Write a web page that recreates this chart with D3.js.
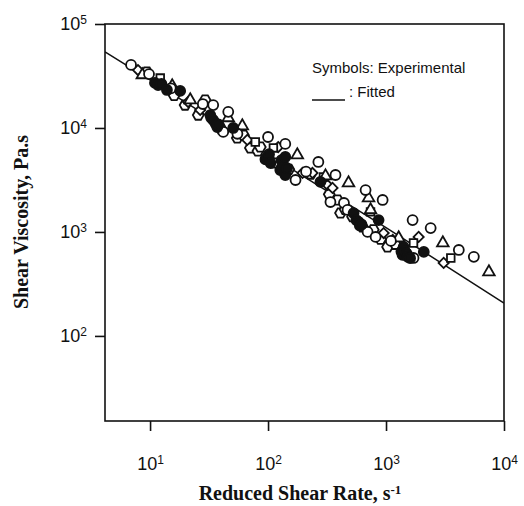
<!DOCTYPE html>
<html lang="en">
<head>
<meta charset="UTF-8">
<title>Shear Viscosity</title>
<script src="https://cdn.jsdelivr.net/npm/d3@7"></script>
<style>
  body { margin: 0; background: #fff; }
  .tick text { font-family: "Liberation Sans", Arial, sans-serif; font-size: 18px; fill: #111; }
  .axis-title { font-family: "Liberation Serif", "Times New Roman", serif; font-weight: bold; font-size: 20px; fill: #111; }
  .legend { font-family: "Liberation Sans", Arial, sans-serif; font-size: 15px; fill: #111; }
</style>
</head>
<body>
<svg width="524" height="506"></svg>
<script>
// data (x: reduced shear rate 1/s, y: viscosity Pa.s)
const openCircleX = [6.9, 9.8, 15, 28, 34.3, 41.7, 46, 55, 100, 140, 171, 210, 267, 373, 440, 472, 671, 936, 698, 816, 1100, 1710, 1680, 2390, 4140, 5550, 338];
const openCircleY = [40400, 33000, 24000, 17000, 16600, 9170, 14300, 8800, 8190, 7020, 3160, 3800, 4710, 3530, 1900, 1630, 2530, 2030, 1000, 895, 820, 562, 1300, 1090, 671, 576, 1940];

const filledX = [11, 11.7, 12.5, 13.9, 18, 32.4, 33, 34.3, 36, 37.1, 38, 50.7, 95, 98.6, 102, 105, 127, 130, 135, 140, 140, 145, 278, 531, 560, 585, 600, 620, 865, 1350, 1410, 1380, 1450, 1500, 1530, 1600, 2090];
const filledY = [27100, 25900, 26500, 23200, 22700, 13300, 12500, 11900, 11000, 10200, 10800, 10000, 5000, 5260, 5600, 4600, 3940, 4900, 4400, 5260, 3530, 4100, 3030, 1520, 1300, 1250, 1150, 1180, 1300, 650, 718, 601, 650, 620, 575, 560, 643];

const triangleX = [8.6, 15.4, 21.9, 46, 60.5, 177, 307, 481, 711, 739, 1280, 3030, 7450];
const triangleY = [32400, 25400, 18600, 12500, 10450, 5500, 3450, 2960, 2120, 1630, 875, 783, 412];

const diamondX = [7.9, 21, 26.6, 66.7, 122, 196, 238, 319, 352, 955, 1140, 1890, 3080];
const diamondY = [36100, 17800, 14900, 7680, 6560, 3690, 3690, 2830, 2650, 977, 837, 896, 504];

const squareX = [12.2, 78, 111, 295, 739, 1710, 3540];
const squareY = [30200, 7330, 6430, 3380, 1560, 783, 562];

const hexX = [9.4, 16, 19.8, 25.6, 29.3, 40, 54.8, 56, 62, 70.8, 82, 86, 111, 150, 230, 330, 388, 411, 450, 520, 632, 780, 900, 1030, 1200];
const hexY = [34500, 20500, 16600, 13300, 18600, 9800, 8020, 9170, 8500, 6430, 6000, 6560, 4600, 4000, 3600, 2300, 2030, 1520, 1650, 1400, 1120, 1050, 850, 718, 760];

// fitted line
const fitX = [4.15, 10, 100, 1000, 10000];
const fitY = [53800, 29000, 5560, 1100, 207];

const xTicks = [10, 100, 1000, 10000];
const yTicks = [100, 1000, 10000, 100000];

const svg = d3.select("svg");
const margin = { top: 24, right: 20, bottom: 85, left: 105 };
const width = 504 - margin.left;
const height = 421 - margin.top;

const x = d3.scaleLog().domain([4.15, 10000]).range([margin.left, margin.left + width]);
const y = d3.scaleLog().domain([15.2, 100000]).range([margin.top + height, margin.top]);

// clip for the fitted line
svg.append("clipPath").attr("id", "plotclip")
  .append("rect")
  .attr("x", margin.left).attr("y", margin.top)
  .attr("width", width).attr("height", height);

function supLabels(sel) {
  sel.selectAll(".tick text").each(function (d) {
    const t = d3.select(this);
    t.text(null);
    t.append("tspan").text("10");
    t.append("tspan").attr("dy", "-0.5em").attr("font-size", "12px").text(Math.round(Math.log10(d)));
  });
}

// axes
const xAxis = svg.append("g")
  .attr("transform", `translate(0,${margin.top + height})`)
  .call(d3.axisBottom(x).tickValues(xTicks).tickSize(10).tickPadding(26));
xAxis.select(".domain").remove();
xAxis.selectAll(".tick line").attr("stroke", "#111").attr("stroke-width", 1.6);
supLabels(xAxis);

const yAxis = svg.append("g")
  .attr("transform", `translate(${margin.left},0)`)
  .call(d3.axisLeft(y).tickValues(yTicks).tickSize(10).tickPadding(8));
yAxis.select(".domain").remove();
yAxis.selectAll(".tick line").attr("stroke", "#111").attr("stroke-width", 1.6);
supLabels(yAxis);

// frame
svg.append("rect")
  .attr("x", margin.left).attr("y", margin.top)
  .attr("width", width).attr("height", height)
  .attr("fill", "none").attr("stroke", "#111").attr("stroke-width", 1.6);

// fitted line
const line = d3.line().x((d, i) => x(fitX[i])).y((d, i) => y(fitY[i]));
svg.append("path")
  .attr("d", line(fitX))
  .attr("clip-path", "url(#plotclip)")
  .attr("fill", "none").attr("stroke", "#111").attr("stroke-width", 1.5);

// hexagon symbol
const symbolHexagon = {
  draw(context, size) {
    const r = Math.sqrt(size / 2.598);
    for (let i = 0; i < 6; i++) {
      const a = Math.PI / 3 * i;
      const px = r * Math.cos(a), py = r * Math.sin(a);
      if (i === 0) context.moveTo(px, py); else context.lineTo(px, py);
    }
    context.closePath();
  }
};

function drawSeries(xs, ys, type, size, fill, rotate) {
  svg.append("g").selectAll("path")
    .data(xs)
    .enter()
    .append("path")
    .attr("d", d3.symbol().type(type).size(size))
    .attr("transform", (d, i) => `translate(${x(xs[i])},${y(ys[i])})` + (rotate ? ` rotate(${rotate})` : ""))
    .attr("fill", fill)
    .attr("stroke", "#111")
    .attr("stroke-width", 1.8);
}

drawSeries(hexX, hexY, symbolHexagon, 75, "#fff", 0);
drawSeries(diamondX, diamondY, d3.symbolSquare, 52, "#fff", 45);
drawSeries(squareX, squareY, d3.symbolSquare, 58, "#fff", 0);
drawSeries(triangleX, triangleY, d3.symbolTriangle, 58, "#fff", 0);
drawSeries(openCircleX, openCircleY, d3.symbolCircle, 78, "#fff", 0);
drawSeries(filledX, filledY, d3.symbolCircle, 78, "#111", 0);

// legend
svg.append("text").attr("class", "legend")
  .attr("x", 312).attr("y", 73)
  .text("Symbols: Experimental");
svg.append("line")
  .attr("x1", 312).attr("x2", 345).attr("y1", 100).attr("y2", 100)
  .attr("stroke", "#111").attr("stroke-width", 1.3);
svg.append("text").attr("class", "legend")
  .attr("x", 349).attr("y", 97)
  .text(": Fitted");

// axis titles
const xt = svg.append("text").attr("class", "axis-title")
  .attr("x", 300).attr("y", 500)
  .attr("text-anchor", "middle");
xt.append("tspan").text("Reduced Shear Rate, s");
xt.append("tspan").attr("dy", "-0.5em").attr("font-size", "13px").text("-1");

svg.append("text").attr("class", "axis-title")
  .attr("transform", "translate(28,222) rotate(-90)")
  .attr("text-anchor", "middle")
  .text("Shear Viscosity, Pa.s");
</script>
</body>
</html>
